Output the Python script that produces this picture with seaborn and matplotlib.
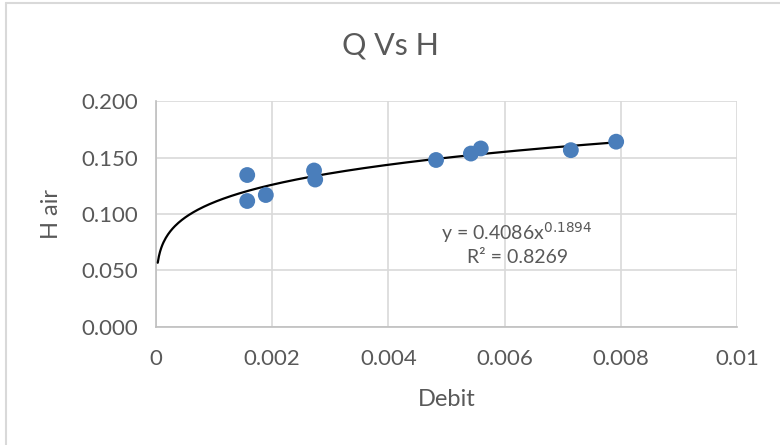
import numpy as np
import pandas as pd
import matplotlib
matplotlib.use("Agg")
import matplotlib.pyplot as plt
import seaborn as sns
from matplotlib.ticker import FixedLocator, FuncFormatter

# Measured flow rate (Debit) and head (H air)
debit = [0.00157, 0.00157, 0.00189, 0.00272, 0.00274, 0.00482, 0.00542, 0.00559, 0.00714, 0.00792]
h_air = [0.1345, 0.1115, 0.1168, 0.1385, 0.1305, 0.1478, 0.1535, 0.1580, 0.1565, 0.1640]

# Power-law trendline coefficients
coef_a = 0.4086
coef_b = 0.1894
r_squared = 0.8269

x_ticks = [0, 0.002, 0.004, 0.006, 0.008, 0.01]
x_tick_labels = ["0", "0.002", "0.004", "0.006", "0.008", "0.01"]
y_ticks = [0.0, 0.05, 0.10, 0.15, 0.20]

sns.set_theme(style="white")
plt.rcParams["font.family"] = ["Lato", "DejaVu Sans"]

text_gray = "#595959"
grid_gray = "#D9D9D9"

fig = plt.figure(figsize=(7.8, 4.45), dpi=100)
ax = fig.add_axes([0.2, 0.2652, 0.7449, 0.5078])

df = pd.DataFrame({"Debit": debit, "H air": h_air})

# Trendline curve
x_fit = np.linspace(0.00003, max(debit), 400)
fit = pd.DataFrame({"Debit": x_fit, "H air": coef_a * x_fit ** coef_b})
sns.lineplot(data=fit, x="Debit", y="H air", ax=ax, color="black", linewidth=1.6, zorder=3)

sns.scatterplot(data=df, x="Debit", y="H air", ax=ax, color="#4A7EBB",
                s=130, edgecolor="none", zorder=4)

ax.set_xlim(0, 0.01)
ax.set_ylim(0, 0.2)
ax.xaxis.set_major_locator(FixedLocator(x_ticks))
ax.set_xticklabels(x_tick_labels)
ax.yaxis.set_major_locator(FixedLocator(y_ticks))
ax.yaxis.set_major_formatter(FuncFormatter(lambda v, p: f"{v:.3f}"))

ax.grid(True, color=grid_gray, linewidth=1.2)
ax.set_axisbelow(True)
for side in ["top", "right"]:
    ax.spines[side].set_visible(False)
for side in ["left", "bottom"]:
    ax.spines[side].set_color("#BFBFBF")
    ax.spines[side].set_linewidth(1.2)

ax.tick_params(axis="both", length=0, labelsize=16, labelcolor=text_gray)
ax.tick_params(axis="x", pad=16)
ax.tick_params(axis="y", pad=13)

ax.set_xlabel("Debit", fontsize=17, color=text_gray, labelpad=14)
ax.set_ylabel("H air", fontsize=17, color=text_gray, labelpad=14)

fig.text(0.5, 0.898, "Q Vs H", ha="center", va="center", fontsize=22, color=text_gray)

ax.text(0.00621, 0.0832, f"y = {coef_a}x$^{{{coef_b}}}$", ha="center", va="center",
        fontsize=14, color=text_gray)
ax.text(0.00622, 0.0615, f"R² = {r_squared}", ha="center", va="center",
        fontsize=14, color=text_gray)

# Chart frame lines
fig.add_artist(plt.Line2D([0.0075, 0.0075], [0, 0.993], transform=fig.transFigure,
                          color="#D9D9D9", linewidth=1.5))
fig.add_artist(plt.Line2D([0.0075, 1.0], [0.993, 0.993], transform=fig.transFigure,
                          color="#D9D9D9", linewidth=1.5))

fig.savefig("out.png", dpi=100, facecolor="white")
